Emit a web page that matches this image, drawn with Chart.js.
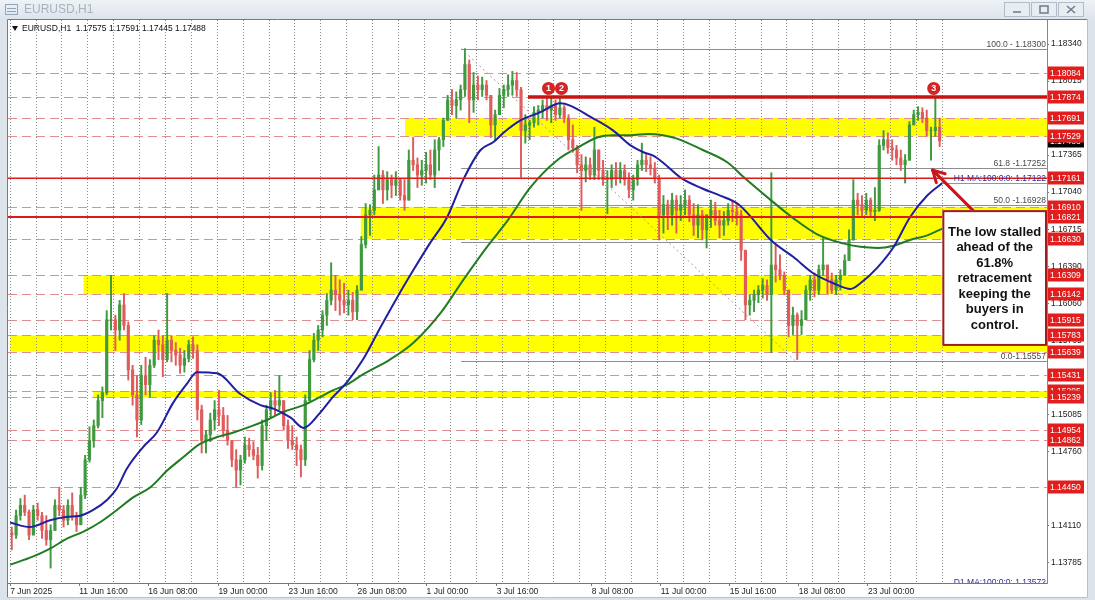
<!DOCTYPE html>
<html>
<head>
<meta charset="utf-8">
<title>EURUSD,H1</title>
<script src="https://cdn.jsdelivr.net/npm/chart.js@4.4.1/dist/chart.umd.min.js"></script>
<style>
  html, body { margin: 0; padding: 0; background: #fff; }
  canvas { display: block; }
</style>
</head>
<body>
<canvas id="chart" width="1095" height="600"></canvas>
<script>
// ---- price data (4 hourly bars per candle) ----
const barsPerCandle = 4;
const firstOpen = 1.1405;
const candleHigh = [
  1.1410, 1.1425, 1.1435, 1.1438, 1.1425, 1.1429, 1.1431, 1.1423, 1.1420, 1.1412,
  1.1434, 1.1445, 1.1429, 1.1434, 1.1440, 1.1423, 1.1445, 1.1473, 1.1498, 1.1504,
  1.1526, 1.1533, 1.1600, 1.1631, 1.1596, 1.1609, 1.1615, 1.1590, 1.1552, 1.1543,
  1.1552, 1.1559, 1.1557, 1.1578, 1.1583, 1.1578, 1.1615, 1.1578, 1.1572, 1.1567,
  1.1565, 1.1574, 1.1577, 1.1570, 1.1517, 1.1495, 1.1510, 1.1521, 1.1530, 1.1515,
  1.1508, 1.1486, 1.1478, 1.1473, 1.1489, 1.1488, 1.1485, 1.1480, 1.1504, 1.1517,
  1.1528, 1.1530, 1.1543, 1.1521, 1.1504, 1.1499, 1.1489, 1.1482, 1.1526, 1.1565,
  1.1580, 1.1587, 1.1600, 1.1615, 1.1642, 1.1631, 1.1627, 1.1624, 1.1618, 1.1616,
  1.1622, 1.1665, 1.1694, 1.1693, 1.1719, 1.1744, 1.1723, 1.1722, 1.1719, 1.1722,
  1.1716, 1.1715, 1.1741, 1.1752, 1.1734, 1.1732, 1.1739, 1.1741, 1.1750, 1.1752,
  1.1769, 1.1789, 1.1794, 1.1792, 1.1798, 1.1830, 1.1820, 1.1809, 1.1806, 1.1805,
  1.1802, 1.1789, 1.1776, 1.1795, 1.1798, 1.1807, 1.1810, 1.1809, 1.1796, 1.1772,
  1.1767, 1.1779, 1.1780, 1.1785, 1.1788, 1.1787, 1.1785, 1.1788, 1.1780, 1.1772,
  1.1763, 1.1745, 1.1737, 1.1735, 1.1734, 1.1761, 1.1741, 1.1732, 1.1723, 1.1728,
  1.1730, 1.1730, 1.1728, 1.1721, 1.1719, 1.1732, 1.1747, 1.1737, 1.1735, 1.1730,
  1.1719, 1.1701, 1.1697, 1.1703, 1.1701, 1.1701, 1.1706, 1.1701, 1.1694, 1.1693,
  1.1688, 1.1684, 1.1697, 1.1695, 1.1688, 1.1687, 1.1694, 1.1697, 1.1694, 1.1688,
  1.1653, 1.1614, 1.1618, 1.1622, 1.1628, 1.1627, 1.1721, 1.1658, 1.1649, 1.1634,
  1.1618, 1.1603, 1.1598, 1.1600, 1.1622, 1.1631, 1.1633, 1.1640, 1.1665, 1.1640,
  1.1633, 1.1631, 1.1636, 1.1649, 1.1671, 1.1715, 1.1703, 1.1701, 1.1703, 1.1699,
  1.1708, 1.1750, 1.1758, 1.1756, 1.1750, 1.1745, 1.1741, 1.1737, 1.1766, 1.1776,
  1.1779, 1.1778, 1.1776, 1.1761, 1.1787, 1.1769
];
const candleLow = [
  1.1390, 1.1400, 1.1416, 1.1420, 1.1399, 1.1403, 1.1416, 1.1400, 1.1394, 1.1374,
  1.1407, 1.1420, 1.1410, 1.1412, 1.1416, 1.1406, 1.1412, 1.1435, 1.1467, 1.1480,
  1.1497, 1.1506, 1.1526, 1.1583, 1.1565, 1.1574, 1.1583, 1.1539, 1.1517, 1.1489,
  1.1500, 1.1526, 1.1524, 1.1550, 1.1557, 1.1542, 1.1555, 1.1555, 1.1552, 1.1545,
  1.1546, 1.1555, 1.1558, 1.1504, 1.1475, 1.1475, 1.1485, 1.1495, 1.1499, 1.1489,
  1.1482, 1.1463, 1.1445, 1.1447, 1.1466, 1.1472, 1.1469, 1.1453, 1.1460, 1.1486,
  1.1506, 1.1508, 1.1513, 1.1495, 1.1479, 1.1478, 1.1464, 1.1454, 1.1464, 1.1521,
  1.1555, 1.1565, 1.1577, 1.1587, 1.1605, 1.1600, 1.1596, 1.1598, 1.1596, 1.1592,
  1.1592, 1.1618, 1.1655, 1.1666, 1.1684, 1.1706, 1.1694, 1.1697, 1.1699, 1.1701,
  1.1697, 1.1688, 1.1697, 1.1723, 1.1708, 1.1710, 1.1712, 1.1715, 1.1708, 1.1723,
  1.1744, 1.1767, 1.1772, 1.1769, 1.1776, 1.1788, 1.1765, 1.1774, 1.1785, 1.1788,
  1.1785, 1.1752, 1.1750, 1.1772, 1.1778, 1.1788, 1.1789, 1.1788, 1.1717, 1.1747,
  1.1750, 1.1761, 1.1763, 1.1769, 1.1767, 1.1765, 1.1767, 1.1769, 1.1765, 1.1741,
  1.1739, 1.1721, 1.1688, 1.1713, 1.1715, 1.1715, 1.1715, 1.1710, 1.1685, 1.1708,
  1.1710, 1.1712, 1.1710, 1.1699, 1.1697, 1.1710, 1.1723, 1.1722, 1.1719, 1.1712,
  1.1662, 1.1668, 1.1671, 1.1675, 1.1668, 1.1679, 1.1684, 1.1678, 1.1666, 1.1664,
  1.1662, 1.1655, 1.1673, 1.1675, 1.1664, 1.1666, 1.1675, 1.1678, 1.1675, 1.1644,
  1.1592, 1.1596, 1.1599, 1.1607, 1.1611, 1.1609, 1.1563, 1.1625, 1.1627, 1.1614,
  1.1577, 1.1579, 1.1557, 1.1579, 1.1592, 1.1609, 1.1612, 1.1614, 1.1631, 1.1615,
  1.1615, 1.1614, 1.1618, 1.1631, 1.1644, 1.1662, 1.1684, 1.1682, 1.1684, 1.1682,
  1.1679, 1.1687, 1.1741, 1.1738, 1.1732, 1.1728, 1.1723, 1.1712, 1.1732, 1.1763,
  1.1767, 1.1765, 1.1753, 1.1732, 1.1753, 1.1744
];
const candleClose = [
  1.1403, 1.1420, 1.1429, 1.1423, 1.1403, 1.1425, 1.1420, 1.1407, 1.1399, 1.1407,
  1.1429, 1.1425, 1.1416, 1.1429, 1.1420, 1.1412, 1.1438, 1.1469, 1.1486, 1.1499,
  1.1521, 1.1528, 1.1592, 1.1592, 1.1583, 1.1605, 1.1587, 1.1548, 1.1526, 1.1504,
  1.1543, 1.1535, 1.1552, 1.1574, 1.1570, 1.1557, 1.1574, 1.1565, 1.1561, 1.1552,
  1.1558, 1.1570, 1.1565, 1.1513, 1.1486, 1.1491, 1.1504, 1.1513, 1.1508, 1.1495,
  1.1486, 1.1469, 1.1460, 1.1469, 1.1482, 1.1478, 1.1473, 1.1464, 1.1499, 1.1513,
  1.1521, 1.1517, 1.1521, 1.1499, 1.1486, 1.1482, 1.1478, 1.1469, 1.1521, 1.1557,
  1.1574, 1.1583, 1.1596, 1.1609, 1.1618, 1.1614, 1.1609, 1.1605, 1.1609, 1.1599,
  1.1618, 1.1658, 1.1684, 1.1688, 1.1706, 1.1719, 1.1706, 1.1715, 1.1710, 1.1715,
  1.1701, 1.1697, 1.1732, 1.1728, 1.1719, 1.1723, 1.1728, 1.1719, 1.1741, 1.1750,
  1.1767, 1.1785, 1.1780, 1.1785, 1.1794, 1.1816, 1.1785, 1.1798, 1.1794, 1.1798,
  1.1789, 1.1763, 1.1772, 1.1789, 1.1794, 1.1798, 1.1802, 1.1794, 1.1758, 1.1763,
  1.1765, 1.1774, 1.1776, 1.1780, 1.1776, 1.1780, 1.1772, 1.1778, 1.1769, 1.1750,
  1.1743, 1.1728, 1.1723, 1.1728, 1.1719, 1.1741, 1.1723, 1.1715, 1.1715, 1.1723,
  1.1716, 1.1723, 1.1715, 1.1706, 1.1715, 1.1728, 1.1732, 1.1728, 1.1725, 1.1716,
  1.1684, 1.1693, 1.1684, 1.1697, 1.1688, 1.1693, 1.1697, 1.1684, 1.1675, 1.1684,
  1.1671, 1.1684, 1.1688, 1.1679, 1.1675, 1.1679, 1.1688, 1.1687, 1.1684, 1.1653,
  1.1605, 1.1609, 1.1614, 1.1618, 1.1622, 1.1614, 1.1640, 1.1636, 1.1631, 1.1618,
  1.1587, 1.1596, 1.1587, 1.1592, 1.1618, 1.1627, 1.1618, 1.1636, 1.1640, 1.1627,
  1.1618, 1.1627, 1.1631, 1.1644, 1.1662, 1.1697, 1.1693, 1.1688, 1.1697, 1.1687,
  1.1688, 1.1745, 1.1750, 1.1743, 1.1741, 1.1734, 1.1728, 1.1732, 1.1763, 1.1772,
  1.1774, 1.1769, 1.1758, 1.1758, 1.1761, 1.1749
];

// moving averages (bar index, value)
const ma100Bars = [0, 18, 37, 53, 65, 77, 90, 99, 108, 123, 136, 151, 164, 173, 192, 213, 232, 244, 260, 272,
  287, 299, 312, 327, 343, 359, 374, 389, 405, 420, 436, 448, 457, 473, 491, 510, 519, 538, 559, 575,
  587, 596, 605, 621, 642, 658, 674, 683, 705, 726, 744, 763, 779, 788, 804, 819, 834, 850, 864];
const ma100 = [1.1414, 1.1410, 1.1416, 1.1419, 1.1420, 1.1425, 1.1434, 1.1444, 1.1461, 1.1480,
  1.1493, 1.1519, 1.1536, 1.1546, 1.1545, 1.1527, 1.1517, 1.1514, 1.1506, 1.1497,
  1.1510, 1.1524, 1.1537, 1.1557, 1.1585, 1.1612, 1.1636, 1.1659, 1.1682, 1.1715,
  1.1741, 1.1748, 1.1756, 1.1767, 1.1774, 1.1782, 1.1780, 1.1770, 1.1758, 1.1745,
  1.1739, 1.1736, 1.1730, 1.1717, 1.1707, 1.1701, 1.1694, 1.1686, 1.1662, 1.1647,
  1.1633, 1.1624, 1.1619, 1.1624, 1.1638, 1.1656, 1.1682, 1.1701, 1.1712];
const ma200Bars = [0, 21, 37, 53, 68, 83, 99, 114, 130, 146, 160, 176, 192, 207, 225, 238, 253, 272, 287, 299,
  312, 327, 352, 374, 399, 420, 442, 461, 482, 507, 526, 544, 559, 575, 591, 605, 618, 642, 665, 680,
  705, 726, 748, 772, 788, 804, 819, 834, 850, 864];
const ma200 = [1.1377, 1.1384, 1.1391, 1.1400, 1.1406, 1.1414, 1.1425, 1.1436, 1.1445, 1.1460,
  1.1471, 1.1483, 1.1489, 1.1493, 1.1499, 1.1504, 1.1511, 1.1517, 1.1524, 1.1530,
  1.1535, 1.1544, 1.1557, 1.1572, 1.1598, 1.1627, 1.1656, 1.1679, 1.1708, 1.1732,
  1.1743, 1.1752, 1.1754, 1.1754, 1.1755, 1.1754, 1.1751, 1.1741, 1.1730, 1.1717,
  1.1697, 1.1681, 1.1667, 1.1659, 1.1656, 1.1655, 1.1657, 1.1662, 1.1666, 1.1672];

// axes
const dateTickBars = [0, 64, 128, 193, 258, 322, 386, 451, 539, 603, 667, 731, 795];
const dateTickLabels = ['7 Jun 2025', '11 Jun 16:00', '16 Jun 08:00', '19 Jun 00:00', '23 Jun 16:00',
  '26 Jun 08:00', '1 Jul 00:00', '3 Jul 16:00', '8 Jul 08:00', '11 Jul 00:00', '15 Jul 16:00',
  '18 Jul 08:00', '23 Jul 00:00'];
const priceTicks = [1.18340, 1.18015, 1.17690, 1.17365, 1.17040, 1.16715, 1.16390, 1.16060,
  1.15735, 1.15410, 1.15085, 1.14760, 1.14435, 1.14110, 1.13785];
const dayGridBars = Array.from({length: 37}, (_, i) => i * 24);

// drawn objects
const levelPrices = [1.18084, 1.17874, 1.17691, 1.17529, 1.17161, 1.16910, 1.16821, 1.16630, 1.16309,
  1.16142, 1.15915, 1.15783, 1.15639, 1.15431, 1.15295, 1.15239, 1.14954, 1.14862, 1.14450];
const zoneTop = [1.17691, 1.16910, 1.16309, 1.15783, 1.15295];
const zoneBottom = [1.17529, 1.16630, 1.16142, 1.15639, 1.15239];
const zoneStartBar = [366, 325, 68, 0, 77];
const redLinePrices = [1.17161, 1.16821];
const resistancePrice = 1.17874, resistanceStartBar = 480;
const fibPrices = [1.18300, 1.17252, 1.16928, 1.16604, 1.16204, 1.15557];
const fibText = ['100.0 - 1.18300', '61.8 -1.17252', '50.0 -1.16928', '38.2 -1.16604', '23.6 -1.16204', '0.0-1.15557'];
const fibStartBar = 418, fibEndBar = 728;
const markerBars = [499, 511, 856], markerPrice = 1.1795, markerText = ['1', '2', '3'];
const lastPrice = 1.17488;
const h1Ma = 1.17122, d1Ma = 1.13572;
const arrowFrom = [894, 1.16864], arrowTo = [855, 1.17233];
const boxLeftBar = 864, boxTop = 1.16882, boxBottom = 1.15690;
const boxLines = ['The low stalled', 'ahead of the', '61.8%', 'retracement', 'keeping the', 'buyers in', 'control.'];

const FONT = "'Liberation Sans', 'DejaVu Sans', sans-serif";
const upColor = '#3f993f', downColor = '#e05c5c';
const openOf = i => i ? candleClose[i - 1] : firstOpen;
const candleX = i => i * barsPerCandle + 1.5;
const candleColor = i => candleClose[i] >= openOf(i) ? upColor : downColor;

function seg(ctx, x1, y1, x2, y2) {
  ctx.beginPath(); ctx.moveTo(x1, y1); ctx.lineTo(x2, y2); ctx.stroke();
}

const mt4Objects = {
  id: 'mt4Objects',
  beforeDraw(chart) {
    const {ctx, chartArea: a, scales: {x, y}} = chart;
    const W = chart.width, H = chart.height;
    ctx.save();
    // window frame + title bar
    ctx.fillStyle = '#dde3ea';
    ctx.fillRect(0, 0, W, H);
    const g = ctx.createLinearGradient(0, 0, 0, 19);
    g.addColorStop(0, '#eef2f6'); g.addColorStop(1, '#dde4ec');
    ctx.fillStyle = g;
    ctx.fillRect(0, 0, W, 19);
    ctx.fillStyle = '#fff';
    ctx.fillRect(7, 19, 1081, 579);
    ctx.strokeStyle = '#8fa5ba'; ctx.lineWidth = 1;
    ctx.strokeRect(5.5, 4.5, 12, 10);
    seg(ctx, 7, 8.5, 16, 8.5); seg(ctx, 7, 11.5, 16, 11.5);
    ctx.fillStyle = '#a9b2bc';
    ctx.font = '12px ' + FONT;
    ctx.textBaseline = 'middle';
    ctx.fillText('EURUSD,H1', 24, 10);
    [1004, 1031, 1058].forEach((bx, i) => {
      ctx.fillStyle = '#e8edf2'; ctx.fillRect(bx, 2, 26, 15);
      ctx.strokeStyle = '#b3bdc8'; ctx.strokeRect(bx + 0.5, 2.5, 25, 14);
      ctx.strokeStyle = '#6f7b88'; ctx.lineWidth = 1.5;
      const cx = bx + 13;
      if (i === 0) seg(ctx, cx - 4, 12, cx + 4, 12);
      if (i === 1) ctx.strokeRect(cx - 4, 6, 8, 7);
      if (i === 2) { seg(ctx, cx - 4, 6, cx + 4, 13); seg(ctx, cx + 4, 6, cx - 4, 13); }
      ctx.lineWidth = 1;
    });

    ctx.beginPath(); ctx.rect(a.left, a.top, a.right - a.left, a.bottom - a.top); ctx.clip();
    // fibonacci levels
    ctx.strokeStyle = '#8e8e8e'; ctx.lineWidth = 1;
    fibPrices.forEach(p => {
      const yy = Math.round(y.getPixelForValue(p)) + 0.5;
      seg(ctx, x.getPixelForValue(fibStartBar), yy, a.right, yy);
    });
    // yellow boxes
    ctx.fillStyle = '#ffff00';
    zoneTop.forEach((t, i) => {
      const y1 = y.getPixelForValue(t), y2 = y.getPixelForValue(zoneBottom[i]);
      const x1 = x.getPixelForValue(zoneStartBar[i]);
      ctx.fillRect(x1, y1, a.right - x1, y2 - y1);
    });
    // dashed levels
    ctx.setLineDash([9, 5]);
    ctx.strokeStyle = '#de8f92';
    levelPrices.forEach(p => {
      const yy = Math.round(y.getPixelForValue(p)) + 0.5;
      seg(ctx, a.left, yy, a.right, yy);
    });
    ctx.restore();
  },
  afterDatasetsDraw(chart) {
    const {ctx, chartArea: a, scales: {x, y}} = chart;
    const X = v => x.getPixelForValue(v), Y = v => y.getPixelForValue(v);
    ctx.save();
    ctx.beginPath(); ctx.rect(a.left, a.top, a.right - a.left, a.bottom - a.top); ctx.clip();

    // solid red levels
    ctx.strokeStyle = '#e01818';
    redLinePrices.forEach((p, i) => {
      ctx.lineWidth = i ? 2 : 1.5;
      seg(ctx, a.left, Y(p), a.right, Y(p));
    });
    ctx.strokeStyle = '#c91414'; ctx.lineWidth = 3.5;
    seg(ctx, X(resistanceStartBar), Y(resistancePrice), a.right, Y(resistancePrice));

    // MA value line
    ctx.strokeStyle = '#9488d8'; ctx.lineWidth = 1;
    seg(ctx, X(boxLeftBar), Math.round(Y(h1Ma)) + 0.5, a.right, Math.round(Y(h1Ma)) + 0.5);

    // fib trend line
    ctx.setLineDash([2, 3]); ctx.strokeStyle = '#a89a9a';
    seg(ctx, X(fibStartBar), Y(fibPrices[0]), X(fibEndBar), Y(fibPrices[fibPrices.length - 1]));
    ctx.setLineDash([]);

    // fib texts
    ctx.font = '8.5px ' + FONT;
    ctx.fillStyle = '#4a4a4a';
    ctx.textAlign = 'right'; ctx.textBaseline = 'alphabetic';
    fibPrices.forEach((p, i) => ctx.fillText(fibText[i], a.right - 1, Y(p) - 2));

    // MA labels
    ctx.fillStyle = '#2f2f92';
    ctx.fillText('H1 MA:100:0:0: ' + h1Ma.toFixed(5), a.right - 1, Y(h1Ma) - 2);
    ctx.fillText('D1 MA:100:0:0: ' + d1Ma.toFixed(5), a.right - 1, Y(d1Ma) - 2);

    // numbered markers
    ctx.textAlign = 'center'; ctx.textBaseline = 'middle';
    ctx.font = 'bold 9px ' + FONT;
    markerBars.forEach((b, i) => {
      ctx.fillStyle = '#d42424';
      ctx.beginPath(); ctx.arc(X(b), Y(markerPrice), 6.5, 0, Math.PI * 2); ctx.fill();
      ctx.fillStyle = '#fff';
      ctx.fillText(markerText[i], X(b), Y(markerPrice) + 0.5);
    });

    // arrow
    const ax1 = X(arrowFrom[0]), ay1 = Y(arrowFrom[1]), ax2 = X(arrowTo[0]), ay2 = Y(arrowTo[1]);
    const ang = Math.atan2(ay1 - ay2, ax1 - ax2);
    ctx.strokeStyle = '#c8151b'; ctx.lineWidth = 3; ctx.lineCap = 'round';
    seg(ctx, ax1, ay1, ax2, ay2);
    seg(ctx, ax2, ay2, ax2 + 13 * Math.cos(ang - 0.5), ay2 + 13 * Math.sin(ang - 0.5));
    seg(ctx, ax2, ay2, ax2 + 13 * Math.cos(ang + 0.5), ay2 + 13 * Math.sin(ang + 0.5));
    ctx.lineCap = 'butt';

    // comment box
    const bx = X(boxLeftBar), by1 = Y(boxTop), by2 = Y(boxBottom);
    ctx.fillStyle = '#fff';
    ctx.fillRect(bx, by1, a.right - bx, by2 - by1);
    ctx.strokeStyle = '#a31a1a'; ctx.lineWidth = 2;
    ctx.strokeRect(bx + 1, by1 + 1, a.right - bx - 2, by2 - by1 - 2);
    ctx.fillStyle = '#111';
    ctx.font = 'bold 13px ' + FONT;
    boxLines.forEach((t, i) => ctx.fillText(t, (bx + a.right) / 2, by1 + 22 + i * 15.5));

    // chart header
    ctx.textAlign = 'left';
    ctx.fillStyle = '#111';
    ctx.beginPath(); ctx.moveTo(12, 26); ctx.lineTo(18, 26); ctx.lineTo(15, 31); ctx.closePath(); ctx.fill();
    ctx.font = '8.5px ' + FONT;
    ctx.fillText('EURUSD,H1  1.17575 1.17591 1.17445 1.17488', 22, 29);
    ctx.restore();
  },
  afterDraw(chart) {
    const {ctx, chartArea: a, scales: {y}} = chart;
    ctx.save();
    ctx.font = '8.5px ' + FONT;
    ctx.textBaseline = 'middle'; ctx.textAlign = 'left';
    const tag = (p, bg) => {
      const yy = Math.round(y.getPixelForValue(p));
      ctx.fillStyle = bg;
      ctx.fillRect(a.right + 1, yy - 6.5, 36, 13);
      ctx.fillStyle = '#fff';
      ctx.fillText(p.toFixed(5), a.right + 3, yy + 0.5);
    };
    tag(lastPrice, '#000');
    levelPrices.forEach(p => tag(p, '#e11d1d'));
    // chart frame
    ctx.strokeStyle = '#7a7a7a'; ctx.lineWidth = 1;
    seg(ctx, 7.5, 19.5, 1087.5, 19.5);
    seg(ctx, 7.5, 19.5, 7.5, 597.5);
    ctx.strokeStyle = '#b8c0c8';
    seg(ctx, 1087.5, 19.5, 1087.5, 597.5);
    seg(ctx, 7.5, 597.5, 1087.5, 597.5);
    ctx.restore();
  }
};

const tickFont = {family: FONT, size: 8.5};

new Chart(document.getElementById('chart'), {
  type: 'bar',
  data: {
    datasets: [
      {
        type: 'line', label: 'MA 100', order: 0,
        data: ma100Bars.map((b, i) => ({x: b, y: ma100[i]})),
        borderColor: '#1f1f9f', borderWidth: 2, pointRadius: 0, cubicInterpolationMode: 'monotone'
      },
      {
        type: 'line', label: 'MA 200', order: 0,
        data: ma200Bars.map((b, i) => ({x: b, y: ma200[i]})),
        borderColor: '#217b21', borderWidth: 2, pointRadius: 0, cubicInterpolationMode: 'monotone'
      },
      {
        label: 'body', order: 1, grouped: false, barThickness: 2.5, borderWidth: 0,
        data: candleClose.map((c, i) => ({x: candleX(i), y: [openOf(i), c]})),
        backgroundColor: c => candleColor(c.dataIndex)
      },
      {
        label: 'wick', order: 2, grouped: false, barThickness: 1.3, borderWidth: 0,
        data: candleHigh.map((h, i) => ({x: candleX(i), y: [candleLow[i], h]})),
        backgroundColor: c => candleColor(c.dataIndex)
      }
    ]
  },
  options: {
    responsive: false,
    animation: false,
    devicePixelRatio: 1,
    events: [],
    layout: {padding: {left: 8, top: 20, right: 8, bottom: 0}},
    plugins: {legend: {display: false}, tooltip: {enabled: false}},
    scales: {
      xg: {
        type: 'linear', position: 'bottom', min: -2, max: 961, offset: false,
        afterBuildTicks: s => { s.ticks = dayGridBars.map(v => ({value: v})); },
        afterFit: s => { s.height = 0; },
        ticks: {display: false},
        grid: {color: '#8c8c8c', drawTicks: false, offset: false},
        border: {display: false, dash: [1, 2]}
      },
      x: {
        type: 'linear', position: 'bottom', min: -2, max: 961, offset: false,
        afterBuildTicks: s => { s.ticks = dateTickBars.map(v => ({value: v})); },
        afterFit: s => { s.height = 17; },
        ticks: {
          autoSkip: false, maxRotation: 0, align: 'start', padding: 1,
          font: tickFont, color: '#222',
          callback: (v, i) => dateTickLabels[i]
        },
        grid: {drawOnChartArea: false, tickLength: 3, color: '#777', offset: false},
        border: {color: '#777'}
      },
      y: {
        type: 'linear', position: 'right', min: 1.13609, max: 1.18551,
        afterBuildTicks: s => { s.ticks = priceTicks.map(v => ({value: v})); },
        afterFit: s => { s.width = 40; },
        ticks: {font: tickFont, color: '#222', padding: 2, callback: v => Number(v).toFixed(5)},
        grid: {drawOnChartArea: false, tickLength: 2, color: '#777'},
        border: {color: '#888'}
      }
    }
  },
  plugins: [mt4Objects]
});
</script>
</body>
</html>
